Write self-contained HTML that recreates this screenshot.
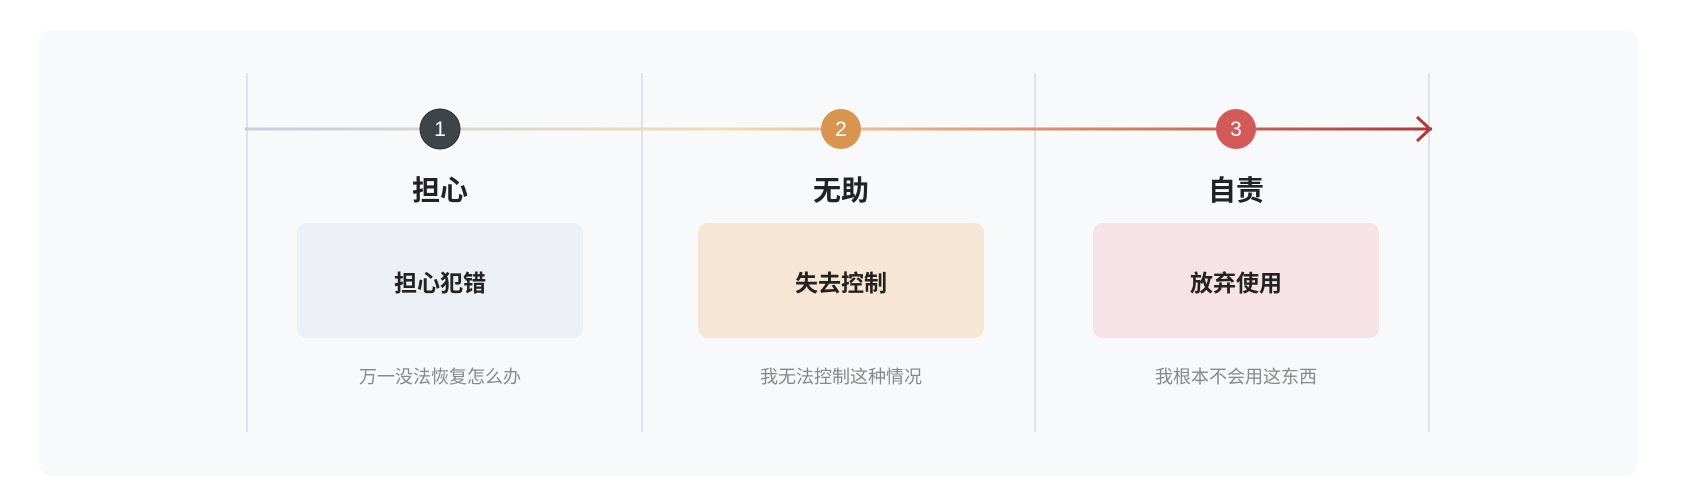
<!DOCTYPE html>
<html><head><meta charset="utf-8"><style>
body{margin:0;width:1706px;height:502px;background:#fff;position:relative;overflow:hidden;font-family:"Liberation Sans","Noto Sans CJK SC",sans-serif}
.panel{position:absolute;left:39px;top:30px;width:1599px;height:446px;background:#f8f9fb;border-radius:12px}
.t{position:absolute;width:300px;text-align:center;font-weight:bold;font-size:28px;color:#222;top:169px}
.box{position:absolute;top:223px;width:286px;height:115px;border-radius:10px;display:flex;align-items:center;justify-content:center;font-size:23px;font-weight:bold;color:#222}
.s{position:absolute;width:300px;text-align:center;font-size:18px;color:#888;top:363px}
</style></head><body>
<div class="panel"></div>
<svg width="1706" height="502" style="position:absolute;left:0;top:0">
<defs><linearGradient id="g" x1="245" x2="1436" y1="0" y2="0" gradientUnits="userSpaceOnUse">
<stop offset="0" stop-color="#c6d0dc"/><stop offset="0.4" stop-color="#f2dcb2"/><stop offset="0.6" stop-color="#e2a57c"/><stop offset="1" stop-color="#b0383a"/></linearGradient></defs>
<g stroke="#dfe2e8" stroke-width="2">
<line x1="247" y1="73" x2="247" y2="432"/><line x1="642" y1="73" x2="642" y2="432"/><line x1="1035" y1="73" x2="1035" y2="432"/><line x1="1429" y1="73" x2="1429" y2="432"/></g>
<line x1="245" y1="129" x2="1432" y2="129" stroke="url(#g)" stroke-width="3"/>
<polyline points="1417,117 1430,129 1417,141" fill="none" stroke="#b0383a" stroke-width="3"/>
<circle cx="440" cy="129" r="20" fill="#3f4449" stroke="#2d3135" stroke-width="1"/>
<circle cx="841" cy="129" r="20" fill="#d9944f"/>
<circle cx="1236" cy="129" r="20" fill="#d45a5a"/>
<g fill="#fff" font-size="21" text-anchor="middle" font-family="Liberation Sans,sans-serif">
<text x="440" y="136">1</text><text x="841" y="136">2</text><text x="1236" y="136">3</text></g>
</svg>
<div class="t" style="left:290px">担心</div>
<div class="t" style="left:691px">无助</div>
<div class="t" style="left:1086px">自责</div>
<div class="box" style="left:297px;background:#eceff5">担心犯错</div>
<div class="box" style="left:698px;background:#f7e6d3">失去控制</div>
<div class="box" style="left:1093px;background:#f6e2e7">放弃使用</div>
<div class="s" style="left:290px">万一没法恢复怎么办</div>
<div class="s" style="left:691px">我无法控制这种情况</div>
<div class="s" style="left:1086px">我根本不会用这东西</div>
</body></html>
